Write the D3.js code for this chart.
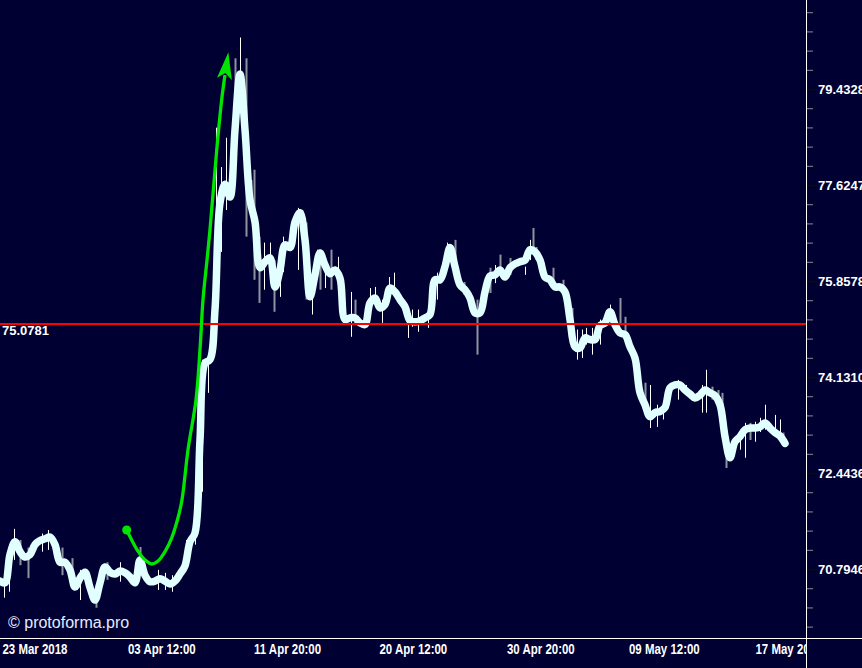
<!DOCTYPE html>
<html><head><meta charset="utf-8">
<script src="https://cdn.jsdelivr.net/npm/d3@7"></script>
<style>
html,body{margin:0;padding:0;background:#000032;overflow:hidden}
svg{display:block}
</style></head><body>
<svg id="chart" width="862" height="668"></svg>
<script>
// ---- data ----
const closes = [70.59,70.56,71.04,71.26,71.09,71.00,71.04,71.21,71.28,71.31,
71.34,71.21,70.91,70.91,70.78,70.49,70.64,70.74,70.48,70.27,
70.56,70.83,70.74,70.71,70.76,70.73,70.66,70.56,70.95,70.69,
70.58,70.59,70.63,70.59,70.54,70.59,70.71,70.85,71.26,71.41,
73.02,74.38,74.44,75.34,77.29,77.64,77.40,78.66,79.72,78.66,
77.35,76.94,76.10,76.21,76.28,75.75,76.06,76.52,76.47,76.94,
77.11,76.61,75.57,75.97,76.37,76.15,75.99,76.06,75.91,75.16,
75.19,75.19,75.10,75.07,75.46,75.55,75.37,75.43,75.73,75.66,
75.52,75.39,75.14,75.12,75.14,75.19,75.25,75.88,75.88,76.12,
76.47,76.12,75.79,75.70,75.55,75.28,75.28,75.66,75.95,75.97,
76.06,75.93,76.10,76.17,76.21,76.24,76.43,76.39,76.24,75.93,
75.88,75.75,75.75,75.66,75.16,74.67,74.65,74.83,74.80,74.80,
75.05,75.10,75.30,75.07,74.92,74.89,74.67,74.47,73.85,73.64,
73.43,73.50,73.52,73.59,73.94,73.99,73.99,73.90,73.83,73.76,
73.81,73.90,73.85,73.80,73.64,73.08,72.71,72.99,73.08,73.20,
73.23,73.23,73.25,73.32,73.23,73.15,73.09,72.96];

const wickBar = [0.8,1.8,2.8,4,5.6,8.4,9.6,12.4,14.4,16,
19.2,21.4,24,28,31.6,33,34.4,37.2,39,40.4,
41.6,43.2,44.2,45.2,47,48,49.2,50.2,50.8,51.8,
52.8,54,54.8,56,56.6,59.6,60.4,61.2,62.4,63.4,
64,65,66.2,67.6,70.2,71,74,75,76.4,77.8,
78.8,81.6,82.4,83.6,85.6,87.4,89.4,91,92.8,94,
95.4,98,99,100,102,105,106,106.6,107.2,110.6,
112.6,114.4,115.4,116.4,117.2,118.4,120,122,124,125,
129,130,131.4,132.6,133.6,135.6,137.2,140.4,141.2,142.4,
143.6,144.4,145.2,148,149,150,151,152,153,155,
156,156.6];
const wickHigh = [70.64,70.69,71.48,71.29,71.16,71.40,71.46,71.16,70.98,70.78,
70.53,70.91,70.91,71.17,70.78,70.73,70.69,71.29,71.46,74.44,
74.53,78.70,77.96,78.51,80.02,80.42,80.02,77.72,77.91,76.67,
76.56,76.56,76.24,76.24,76.67,77.20,77.16,76.93,75.88,76.43,
76.43,76.24,76.43,76.30,75.66,75.52,75.73,75.75,75.52,75.93,
76.01,75.28,75.34,75.34,75.34,76.01,76.56,76.61,75.84,75.64,
75.52,76.10,76.15,76.34,76.28,76.12,76.61,76.83,76.48,76.10,
75.88,75.37,74.98,74.98,75.01,75.01,75.16,75.43,75.55,75.21,
74.03,73.99,73.64,73.64,73.96,74.08,73.99,73.99,74.26,73.96,
73.90,73.85,73.20,73.20,73.32,73.32,73.34,73.41,73.64,73.46,
73.38,73.15];
const wickLow = [70.31,70.41,70.95,70.86,70.64,71.09,71.12,70.69,70.53,70.27,
70.14,70.61,70.58,70.78,70.44,70.44,70.41,70.78,71.21,72.12,
73.85,76.56,76.39,77.16,78.98,79.60,76.67,77.04,75.88,75.46,
75.70,76.02,75.30,75.57,76.02,76.06,76.80,75.52,75.25,76.06,
75.70,75.73,75.70,75.79,74.85,75.07,75.34,75.43,75.10,75.52,
75.61,74.83,75.03,74.94,75.01,75.52,76.15,76.06,75.61,75.43,
74.53,75.64,75.82,75.97,75.97,75.97,76.24,76.34,76.24,75.70,
75.61,74.92,74.44,74.47,74.71,74.53,74.71,75.16,75.07,74.94,
73.55,73.23,73.25,73.38,73.73,73.73,73.81,73.50,73.50,73.73,
73.64,73.38,72.53,72.85,72.71,73.02,72.99,73.16,73.20,73.08,
73.02,72.94];
const wickKind = ("wwwggwwggw"+"ggwgwwwwww"+"wwwwgwgggg"+"wwgwwwggww"+"gwgwwgwwww"+
                  "wwwwwwwggg"+"ggwggwwggg"+"ggwwwwwwgg"+"gwwwgwwwwg"+"gggwwgwwww"+"wg").split("");

const priceTicks = [70.7946,72.4436,74.1310,75.8578,77.6247,79.4328];
const timeTickBars = [0,25.1,50.3,75.4,100.9,125.3,150.6];
const timeTickLabels = ["23 Mar 2018","03 Apr 12:00","11 Apr 20:00","20 Apr 12:00","30 Apr 20:00","09 May 12:00","17 May 20:00"];
const levelValue = 75.0781;
const arrowBars = [25.34,26.34,27.66,29,30.34,31.6,33,34.4,35.6,36.4,37.6,39.2,40,40.6,41.4,42,43.4,44.4,45];
const arrowValues = [71.46,71.29,71.09,70.95,70.88,70.93,71.09,71.34,71.67,71.98,72.85,73.73,74.62,75.52,76.24,76.80,78.34,79.28,79.70];
const watermark = "© protoforma.pro";

// ---- layout ----
const W = 862, H = 668, plotR = 806, plotB = 638;
const bg = "#000032";
const green = "#00e600";
const svg = d3.select("#chart");
svg.append("rect").attr("width", W).attr("height", H).attr("fill", bg);

const x = d3.scaleLinear().domain([0, 161.2]).range([0, plotR]);
const y = d3.scaleLog().domain([69.633, 81.147]).range([plotB, 0]);

const defs = svg.append("defs");
defs.append("clipPath").attr("id", "plotClip").append("rect")
  .attr("x", 0).attr("y", 0).attr("width", plotR).attr("height", plotB);
defs.append("clipPath").attr("id", "xClip").append("rect")
  .attr("x", 0).attr("y", 0).attr("width", plotR).attr("height", H - plotB);
defs.append("marker").attr("id", "arrowHead")
  .attr("markerUnits", "userSpaceOnUse")
  .attr("viewBox", "0 -8 28 16").attr("markerWidth", 28).attr("markerHeight", 16)
  .attr("refX", 4).attr("refY", 0).attr("orient", "auto")
  .append("path").attr("d", "M0,-7.5L27,0L0,7.5L6,0Z").attr("fill", green);

const plot = svg.append("g").attr("clip-path", "url(#plotClip)");

// wicks
const wicks = wickBar.map((b, i) => ({b, hi: wickHigh[i], lo: wickLow[i], k: wickKind[i]}));
plot.append("g").selectAll("line").data(wicks).join("line")
  .attr("x1", d => Math.round(x(d.b)) + 0.5).attr("x2", d => Math.round(x(d.b)) + 0.5)
  .attr("y1", d => y(d.hi)).attr("y2", d => y(d.lo))
  .attr("stroke", d => d.k === "w" ? "#ffffff" : "#8e939e")
  .attr("stroke-width", d => d.k === "w" ? 1 : 2);

// main thick line
const line = d3.line().x((d, i) => x(i)).y(d => y(d)).curve(d3.curveCatmullRom.alpha(0.5));
plot.append("path").datum(closes).attr("d", line)
  .attr("fill", "none").attr("stroke", "#e2ffff").attr("stroke-width", 7.5)
  .attr("stroke-linejoin", "round").attr("stroke-linecap", "round");

// level line
plot.append("line").attr("x1", 0).attr("x2", plotR)
  .attr("y1", y(levelValue)).attr("y2", y(levelValue))
  .attr("stroke", "#ff0000").attr("stroke-width", 2);

// green arrow
const arrowLine = d3.line().x(d => x(d[0])).y(d => y(d[1])).curve(d3.curveCatmullRom.alpha(0.5));
plot.append("path").datum(arrowBars.map((b, i) => [b, arrowValues[i]]))
  .attr("d", arrowLine).attr("fill", "none").attr("stroke", green)
  .attr("stroke-width", 3.3).attr("marker-end", "url(#arrowHead)");
plot.append("circle").attr("cx", x(arrowBars[0])).attr("cy", y(arrowValues[0]))
  .attr("r", 4.5).attr("fill", green);

// level label
svg.append("text").attr("x", 2).attr("y", y(levelValue) + 11)
  .attr("fill", "#ffffff").attr("font-family", "'Liberation Sans', Arial, sans-serif")
  .attr("font-weight", "bold").attr("font-size", 13).text(levelValue.toFixed(4));

// watermark
svg.append("text").attr("x", 8).attr("y", 628)
  .attr("fill", "#e4ecff").attr("font-family", "'Liberation Sans', Arial, sans-serif")
  .attr("font-size", 16).text(watermark);

// right price axis: minor ticks
const minor = d3.range(1.844, 1.9095, 0.002).map(e => Math.pow(10, e))
  .filter(v => !priceTicks.some(t => Math.abs(Math.log10(t) - Math.log10(v)) < 0.0005));
const minorAxis = d3.axisRight(y).tickValues(minor).tickFormat("").tickSize(7).tickSizeOuter(0);
const gMinor = svg.append("g").attr("transform", `translate(${plotR},0)`).call(minorAxis);
gMinor.select(".domain").remove();
gMinor.selectAll(".tick line").attr("stroke", "#8a8a96");

const majorAxis = d3.axisRight(y).tickValues(priceTicks).tickFormat(d3.format(".4f"))
  .tickSize(9).tickPadding(3).tickSizeOuter(0);
const gMajor = svg.append("g").attr("transform", `translate(${plotR},0)`).call(majorAxis);
gMajor.select(".domain").remove();
gMajor.selectAll(".tick line").attr("stroke", "#0a0a14").attr("stroke-width", 2);
gMajor.selectAll(".tick text").attr("fill", "#ffffff")
  .attr("font-family", "'Liberation Sans', Arial, sans-serif")
  .attr("font-weight", "bold").attr("font-size", 13);

// bottom time axis
const xAxis = d3.axisBottom(x).tickValues(timeTickBars)
  .tickFormat((d, i) => timeTickLabels[i]).tickSize(3).tickSizeOuter(0);
const gX = svg.append("g").attr("transform", `translate(0,${plotB})`)
  .attr("clip-path", "url(#xClip)").call(xAxis);
gX.select(".domain").remove();
gX.selectAll(".tick line").attr("stroke", "#0a0a14").attr("transform", "translate(0,1)");
gX.selectAll(".tick text").attr("fill", "#ffffff").attr("text-anchor", "start")
  .attr("dx", 2).attr("dy", "0.7em")
  .attr("font-family", "'Liberation Sans', Arial, sans-serif")
  .attr("font-weight", "bold").attr("font-size", 14.5)
  .each(function () {
    const len = this.getComputedTextLength();
    d3.select(this).attr("textLength", len * 0.79).attr("lengthAdjust", "spacingAndGlyphs");
  });

// frame lines
svg.append("line").attr("x1", plotR + 0.5).attr("x2", plotR + 0.5).attr("y1", 0).attr("y2", H)
  .attr("stroke", "#ffffff").attr("stroke-width", 1);
svg.append("line").attr("x1", 0).attr("x2", W).attr("y1", plotB + 0.5).attr("y2", plotB + 0.5)
  .attr("stroke", "#ffffff").attr("stroke-width", 1);
</script>
</body></html>
